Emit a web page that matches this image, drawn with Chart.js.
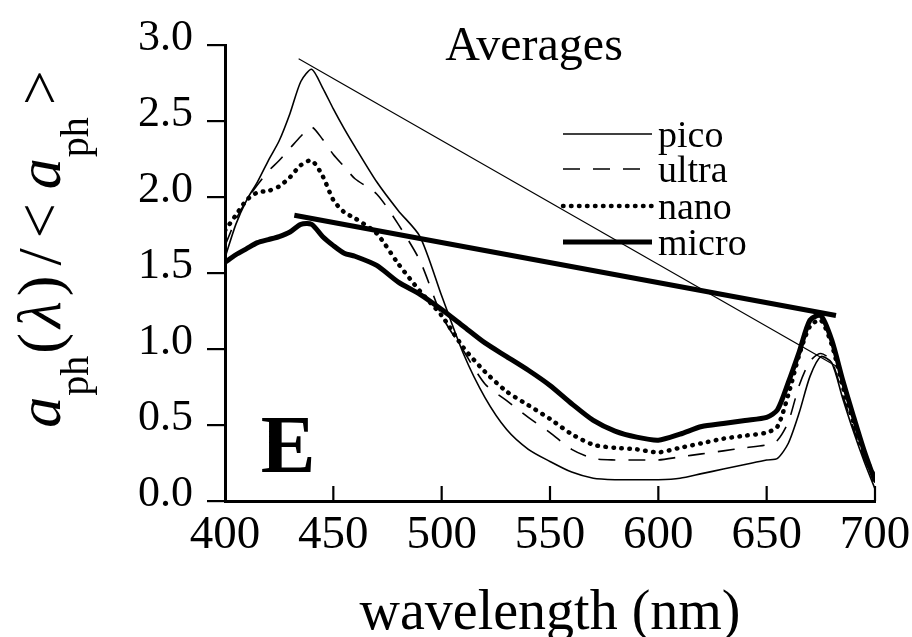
<!DOCTYPE html>
<html>
<head>
<meta charset="utf-8">
<script src="https://cdn.jsdelivr.net/npm/chart.js@4.4.0/dist/chart.umd.min.js"></script>
<style>
html,body{margin:0;padding:0;background:#fff;}
#wrap{width:912px;height:637px;position:relative;}
canvas{display:block;}
</style>
</head>
<body>
<div id="wrap"><canvas id="c" width="912" height="637" style="width:912px;height:637px"></canvas></div>
<script>
// ---- data ----
const wavelengths = [400,405,410,415,420,425,430,435,440,445,450,455,460,470,480,490,500,510,520,530,540,550,560,570,580,590,600,610,620,630,640,650,655,660,665,670,675,680,685,690,695,700];
const pico  = [1.60,1.82,1.98,2.10,2.24,2.37,2.55,2.76,2.84,2.72,2.58,2.45,2.33,2.10,1.91,1.74,1.35,0.97,0.68,0.47,0.34,0.26,0.19,0.15,0.14,0.14,0.14,0.15,0.18,0.21,0.24,0.27,0.28,0.38,0.58,0.82,0.95,0.91,0.68,0.46,0.26,0.08];
const ultra = [1.68,1.85,1.98,2.08,2.17,2.24,2.32,2.40,2.46,2.38,2.28,2.20,2.12,2.02,1.82,1.58,1.22,0.99,0.77,0.66,0.55,0.45,0.34,0.28,0.27,0.27,0.27,0.29,0.31,0.33,0.35,0.37,0.40,0.52,0.76,0.92,0.97,0.92,0.70,0.48,0.28,0.12];
const nano  = [1.78,1.88,1.98,2.03,2.04,2.07,2.13,2.21,2.24,2.14,1.98,1.90,1.86,1.76,1.56,1.38,1.22,1.01,0.85,0.72,0.63,0.54,0.44,0.37,0.35,0.34,0.32,0.35,0.38,0.41,0.43,0.45,0.49,0.70,0.96,1.15,1.19,1.03,0.76,0.52,0.31,0.15];
const micro = [1.57,1.62,1.66,1.70,1.72,1.74,1.77,1.82,1.82,1.74,1.68,1.63,1.61,1.55,1.44,1.36,1.26,1.15,1.04,0.95,0.86,0.76,0.64,0.53,0.46,0.42,0.40,0.44,0.49,0.51,0.53,0.55,0.60,0.78,0.98,1.19,1.22,1.06,0.80,0.56,0.33,0.13];
const thinLineX  = [434, 683];
const thinLineY  = [2.91, 0.88];
const thickLineX = [432, 682];
const thickLineY = [1.88, 1.22];
const seriesNames = ['pico','ultra','nano','micro'];
const xTicks = [400,450,500,550,600,650,700];
const yTicks = [0,0.5,1.0,1.5,2.0,2.5,3.0];

const SERIF = "'Liberation Serif', 'Times New Roman', 'DejaVu Serif', serif";

function pts(xs, ys){ return xs.map((x,i)=>({x:x, y:ys[i]})); }

const styles = [
  {borderWidth:1.6, borderDash:[]},
  {borderWidth:1.6, borderDash:[17,13]},
  {borderWidth:4.5, borderDash:[0.5,7.5], borderCapStyle:'round'},
  {borderWidth:5,   borderDash:[]}
];
const seriesValues = [pico, ultra, nano, micro];

const datasets = seriesNames.map((name,i)=>Object.assign({
  label:name,
  data:pts(wavelengths, seriesValues[i]),
  borderColor:'#000',
  backgroundColor:'#000',
  pointRadius:0,
  tension:0.25,
  fill:false
}, styles[i]));
datasets.push({label:'_thin', data:pts(thinLineX, thinLineY), borderColor:'#000', borderWidth:1.2, pointRadius:0, tension:0});
datasets.push({label:'_thick', data:pts(thickLineX, thickLineY), borderColor:'#000', borderWidth:5, pointRadius:0, tension:0, borderCapStyle:'butt'});

const decor = {
  id:'decor',
  afterDraw(chart){
    const ctx = chart.ctx;
    const xs = chart.scales.x, ys = chart.scales.y;
    ctx.save();
    // inward x tick marks
    ctx.strokeStyle = '#000'; ctx.lineWidth = 2.2;
    const base = ys.getPixelForValue(0);
    xTicks.forEach(v=>{
      if (v === xs.min) return;
      const px = xs.getPixelForValue(v);
      ctx.beginPath(); ctx.moveTo(px, base); ctx.lineTo(px, base-15); ctx.stroke();
    });
    // panel title
    ctx.fillStyle = '#000';
    ctx.textAlign = 'center'; ctx.textBaseline = 'alphabetic';
    ctx.font = '48px ' + SERIF;
    ctx.fillText('Averages', 534, 60);
    // panel letter
    ctx.font = 'bold 82px ' + SERIF;
    ctx.fillText('E', 288, 472);
    // legend
    const rows = [134, 169, 206, 242];
    chart.data.datasets.slice(0,4).forEach((ds,i)=>{
      const y = rows[i];
      ctx.save();
      ctx.strokeStyle = '#000';
      ctx.lineWidth = ds.borderWidth;
      ctx.setLineDash(ds.borderDash || []);
      ctx.lineCap = ds.borderCapStyle || 'butt';
      ctx.beginPath(); ctx.moveTo(563, y); ctx.lineTo(652, y); ctx.stroke();
      ctx.restore();
      ctx.textAlign = 'left';
      ctx.font = '38px ' + SERIF;
      ctx.fillText(ds.label, 658, y + 13);
    });
    // y axis title (rotated, with subscripts)
    const pieces = [
      {t:'a', f:'italic 62px', dy:0, gap:1},
      {t:'ph', f:'40px', dy:28, gap:2},
      {t:'(', f:'62px', dy:0, gap:5},
      {t:'\u03BB', f:'italic 62px', dy:0, gap:5},
      {t:')', f:'62px', dy:0, gap:10},
      {t:'/', f:'62px', dy:0, gap:10},
      {t:'<', f:'62px', dy:0, gap:14},
      {t:'a', f:'italic 62px', dy:0, gap:1},
      {t:'ph', f:'40px', dy:28, gap:12},
      {t:'>', f:'62px', dy:0, gap:0}
    ];
    let total = 0;
    pieces.forEach(p=>{ ctx.font = p.f + ' ' + SERIF; p.w = ctx.measureText(p.t).width; total += p.w + p.gap; });
    total -= pieces[pieces.length-1].gap;
    ctx.save();
    ctx.translate(60, 249);
    ctx.rotate(-Math.PI/2);
    ctx.textAlign = 'left'; ctx.textBaseline = 'alphabetic';
    let u = -total/2;
    pieces.forEach(p=>{ ctx.font = p.f + ' ' + SERIF; ctx.fillText(p.t, u, p.dy); u += p.w + p.gap; });
    ctx.restore();
    ctx.restore();
  }
};

new Chart(document.getElementById('c'), {
  type:'line',
  data:{datasets:datasets},
  options:{
    responsive:false,
    animation:false,
    devicePixelRatio:1,
    layout:{padding:{top:45, right:37, left:0, bottom:0}},
    plugins:{legend:{display:false}, tooltip:{enabled:false}, title:{display:false}},
    scales:{
      x:{
        type:'linear', min:400, max:700,
        afterBuildTicks(s){ s.ticks = xTicks.map(v=>({value:v})); },
        afterFit(s){ s.height = 136; s.paddingRight = 37; },
        grid:{display:false, drawTicks:false},
        border:{display:true, color:'#000', width:3},
        ticks:{color:'#000', font:{family:SERIF, size:47}, padding:6, maxRotation:0, autoSkip:false},
        title:{display:true, text:'wavelength (nm)', color:'#000', font:{family:SERIF, size:56, lineHeight:0.8}, padding:{top:0,bottom:0}}
      },
      y:{
        type:'linear', min:0, max:3,
        afterBuildTicks(s){ s.ticks = yTicks.map(v=>({value:v})); },
        afterFit(s){ s.width = 225; },
        grid:{display:true, drawOnChartArea:false, drawTicks:true, tickLength:18, color:'#000', lineWidth:2.2},
        border:{display:true, color:'#000', width:3},
        ticks:{color:'#000', font:{family:SERIF, size:44}, padding:14, labelOffset:-7, callback:(v)=>Number(v).toFixed(1)}
      }
    }
  },
  plugins:[decor]
});
</script>
</body>
</html>
